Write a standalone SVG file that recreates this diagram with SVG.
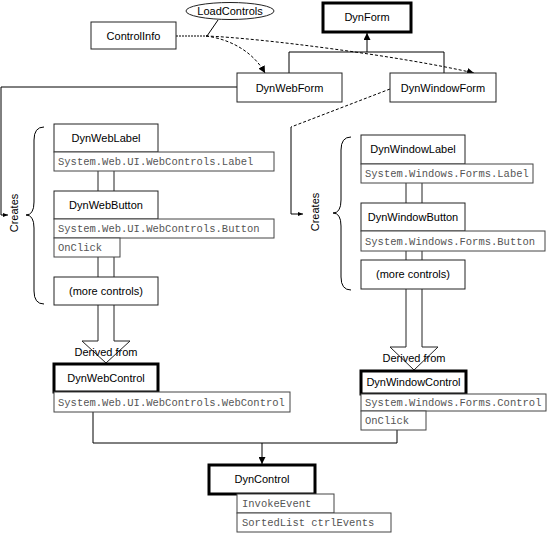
<svg xmlns="http://www.w3.org/2000/svg" width="554" height="534" viewBox="0 0 554 534">
<defs>
<style>
.box{fill:#fff;stroke:#222;stroke-width:1}
.thick{fill:#fff;stroke:#000;stroke-width:3}
.mbox{fill:#fff;stroke:#444;stroke-width:1}
.t{font-family:"Liberation Sans",Arial,sans-serif;font-size:11px;fill:#000;text-anchor:middle}
.m{font-family:"Liberation Mono","Courier New",monospace;font-size:10.5px;fill:#555}
.ln{fill:none;stroke:#000;stroke-width:1}
.blk{fill:#fff;stroke:#222;stroke-width:1}
</style>
<marker id="arr" viewBox="0 0 10 10" refX="10" refY="5" markerWidth="7" markerHeight="7" markerUnits="userSpaceOnUse" orient="auto"><path d="M0,0 L10,5 L0,10 z" fill="#000"/></marker>
<marker id="arrs" viewBox="0 0 10 10" refX="10" refY="5" markerWidth="5" markerHeight="5" markerUnits="userSpaceOnUse" orient="auto"><path d="M0,1 L10,5 L0,9 z" fill="#000"/></marker>
</defs>
<rect width="554" height="534" fill="#fff"/>

<g id="connectors">
<path class="ln" d="M176,36 L207,36" stroke-width="2" stroke-dasharray="2,1"/>
<path class="ln" d="M218,20 L207,36"/>
<path class="ln" d="M206,36 C235,40 255,55 265,73" stroke-dasharray="3,2" marker-end="url(#arr)"/>
<path class="ln" d="M206,36 C260,38 400,56 474,73" stroke-dasharray="3,2" marker-end="url(#arr)"/>
<path class="ln" d="M289,73 L289,52 L444,52 L444,73"/>
<path class="ln" d="M367,52 L367,33" marker-end="url(#arr)"/>
<path class="ln" d="M237,87 L1,87 L1,215 L8,215" marker-end="url(#arrs)"/>
<path class="ln" d="M390,89 L291,127" stroke-dasharray="3,2"/>
<path class="ln" d="M291,127 L291,214 L303,214" marker-end="url(#arrs)"/>
<path class="blk" d="M98,170 L98,341 L82,341 L106,363 L130,341 L114,341 L114,170"/>
<path class="blk" d="M406,183 L406,347 L390,347 L414,370 L438,347 L422,347 L422,183"/>
<path class="ln" d="M93,412 L93,443 L397,443 L397,430"/>
<path class="ln" d="M262,443 L262,464" marker-end="url(#arr)"/>
<path class="ln" d="M44,127 Q34,127 34,140 L34,202 Q34,215 26,215 Q34,215 34,228 L34,291 Q34,304 44,304"/>
<path class="ln" d="M351,137 Q341,137 341,150 L341,200 Q341,213 333,213 Q341,213 341,226 L341,277 Q341,290 351,290"/>
</g>

<g id="LoadControls"><ellipse cx="230" cy="11" rx="44" ry="8.5" class="box"/><text class="t" x="230" y="15">LoadControls</text></g>
<g id="ControlInfo"><rect class="box" x="91" y="22" width="85" height="27"/><text class="t" x="133.5" y="40">ControlInfo</text></g>
<g id="DynForm"><rect class="thick" x="323" y="3" width="88" height="29"/><text class="t" x="367" y="21">DynForm</text></g>
<g id="DynWebForm"><rect class="box" x="237" y="73" width="105" height="29"/><text class="t" x="289.5" y="92">DynWebForm</text></g>
<g id="DynWindowForm"><rect class="box" x="390" y="73" width="106" height="29"/><text class="t" x="443" y="92">DynWindowForm</text></g>

<text class="t" transform="translate(18,213) rotate(-90)">Creates</text>
<text class="t" transform="translate(319,212) rotate(-90)">Creates</text>

<g id="DynWebLabel"><rect class="box" x="54" y="124" width="104" height="28"/><text class="t" x="106" y="142">DynWebLabel</text>
<rect class="mbox" x="54" y="152" width="220" height="19"/><text class="m" x="58" y="165">System.Web.UI.WebControls.Label</text></g>
<g id="DynWebButton"><rect class="box" x="54" y="191" width="104" height="28"/><text class="t" x="106" y="209">DynWebButton</text>
<rect class="mbox" x="54" y="219" width="220" height="19"/><text class="m" x="58" y="232">System.Web.UI.WebControls.Button</text>
<rect class="mbox" x="54" y="238" width="66" height="19"/><text class="m" x="58" y="251">OnClick</text></g>
<g id="WebMore"><rect class="box" x="54" y="277" width="104" height="28"/><text class="t" x="106" y="295">(more controls)</text></g>
<text class="t" x="106" y="356">Derived from</text>
<g id="DynWebControl"><rect class="thick" x="54" y="364" width="104" height="28"/><text class="t" x="106" y="382">DynWebControl</text>
<rect class="mbox" x="54" y="392" width="236" height="20"/><text class="m" x="58" y="406">System.Web.UI.WebControls.WebControl</text></g>

<g id="DynWindowLabel"><rect class="box" x="361" y="135" width="104" height="29"/><text class="t" x="413" y="153">DynWindowLabel</text>
<rect class="mbox" x="361" y="164" width="172" height="19"/><text class="m" x="365" y="177">System.Windows.Forms.Label</text></g>
<g id="DynWindowButton"><rect class="box" x="361" y="203" width="104" height="28"/><text class="t" x="413" y="221">DynWindowButton</text>
<rect class="mbox" x="361" y="231" width="184" height="20"/><text class="m" x="365" y="245">System.Windows.Forms.Button</text></g>
<g id="WindowMore"><rect class="box" x="361" y="260" width="104" height="29"/><text class="t" x="413" y="278">(more controls)</text></g>
<text class="t" x="414" y="362">Derived from</text>
<g id="DynWindowControl"><rect class="thick" x="361" y="371" width="105" height="23"/><text class="t" x="413.5" y="386">DynWindowControl</text>
<rect class="mbox" x="361" y="394" width="185" height="17"/><text class="m" x="365" y="406">System.Windows.Forms.Control</text>
<rect class="mbox" x="361" y="411" width="65" height="19"/><text class="m" x="365" y="424">OnClick</text></g>

<g id="DynControl"><rect class="thick" x="209" y="465" width="106" height="29"/><text class="t" x="262" y="483">DynControl</text>
<rect class="mbox" x="237" y="494" width="97" height="19"/><text class="m" x="242" y="507">InvokeEvent</text>
<rect class="mbox" x="237" y="513" width="154" height="19"/><text class="m" x="242" y="526">SortedList ctrlEvents</text></g>
</svg>
